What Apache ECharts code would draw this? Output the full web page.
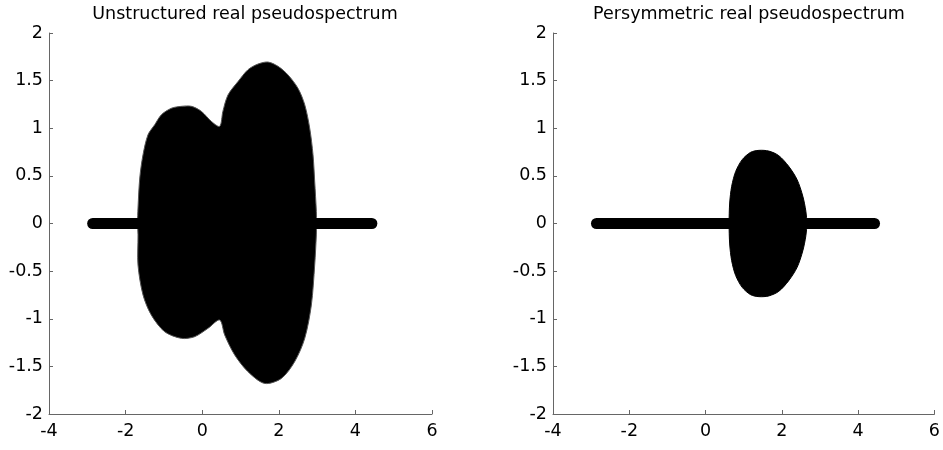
<!DOCTYPE html>
<html><head><meta charset="utf-8">
<script src="https://cdn.jsdelivr.net/npm/echarts@6/dist/echarts.min.js"></script>
<style>html,body{margin:0;padding:0;background:#fff}#c{width:943px;height:450px}</style>
</head><body><div id="c"></div>
<script>
// ---- data ----
const titles = ['Unstructured real pseudospectrum', 'Persymmetric real pseudospectrum'];
const xRange = [-4, 6];
const xStep = 2;
const yRange = [-2, 2];
const yStep = 0.5;
// eigenvalue strip along the real axis (start, end)
const realAxisStrip = [[-2.86, 0], [4.43, 0]];
// unstructured pseudospectrum: upper and lower boundaries (x ascending)
const unstructuredUpper = [
  [-1.69,0],[-1.676,0.163],[-1.63,0.478],[-1.545,0.722],[-1.415,0.932],[-1.24,1.037],
  [-1.065,1.142],[-0.804,1.21],[-0.543,1.23],[-0.28,1.23],[-0.02,1.177],[0.24,1.072],
  [0.457,1.02],[0.54,1.177],[0.674,1.35],[0.935,1.49],[1.196,1.615],[1.457,1.674],
  [1.718,1.695],[1.98,1.65],[2.24,1.56],[2.50,1.42],[2.677,1.247],[2.807,1.0],
  [2.893,0.722],[2.937,0.442],[2.98,0.127],[2.985,0]
];
const unstructuredLower = [
  [-1.69,0],[-1.676,-0.12],[-1.676,-0.436],[-1.545,-0.75],[-1.33,-0.96],[-0.98,-1.136],
  [-0.543,-1.206],[-0.196,-1.188],[0.152,-1.10],[0.457,-1.013],[0.587,-1.17],[0.848,-1.38],
  [1.196,-1.556],[1.63,-1.679],[2.068,-1.626],[2.415,-1.45],[2.677,-1.206],[2.85,-0.856],
  [2.937,-0.436],[2.98,-0.12],[2.985,0]
];
// persymmetric pseudospectrum: upper boundary (mirrored below the real axis)
const persymmetricUpper = [
  [0.614,0],[0.632,0.215],[0.684,0.39],[0.79,0.547],[0.96,0.67],[1.18,0.747],[1.40,0.768],
  [1.66,0.76],[1.92,0.712],[2.18,0.60],[2.40,0.46],[2.55,0.285],[2.63,0.127],[2.66,0]
];
const persymmetricLower = persymmetricUpper.map(p => [p[0], -p[1]]);

// ---- chart ----
const FONT = 'DejaVu Sans';
const FS = 17.5;
function blob(upper, lower, idx, stroke) {
  const pts = upper.concat(lower.slice().reverse());
  return {
    type: 'custom', xAxisIndex: idx, yAxisIndex: idx, silent: true,
    data: [pts[0]],
    renderItem: (params, api) => ({
      type: 'polygon',
      shape: { points: pts.map(p => api.coord(p)), smooth: 0.3 },
      style: { fill: '#000', stroke: stroke, lineWidth: 1 }
    })
  };
}
function strip(idx) {
  return {
    type: 'line', xAxisIndex: idx, yAxisIndex: idx, silent: true,
    data: realAxisStrip, symbol: 'none',
    lineStyle: { color: '#000', width: 11, cap: 'round' }, z: 3
  };
}
function axisCommon(margin) {
  return {
    type: 'value',
    axisLine: { show: true, onZero: false, lineStyle: { color: '#666', width: 1 } },
    axisTick: { show: true, inside: true, length: 4, lineStyle: { color: '#666' } },
    splitLine: { show: false },
    axisLabel: { color: '#000', fontFamily: FONT, fontSize: FS, margin: margin }
  };
}
function xAxis(idx) {
  return Object.assign(axisCommon(8), { gridIndex: idx, min: xRange[0], max: xRange[1], interval: xStep });
}
function yAxis(idx) {
  return Object.assign(axisCommon(6), { gridIndex: idx, min: yRange[0], max: yRange[1], interval: yStep });
}
const chart = echarts.init(document.getElementById('c'), null, { renderer: 'canvas' });
chart.setOption({
  animation: false,
  backgroundColor: '#fff',
  title: [
    { text: titles[0], left: 240, top: 0, textAlign: 'center',
      textStyle: { fontFamily: FONT, fontSize: FS, fontWeight: 'normal', color: '#000' } },
    { text: titles[1], left: 744, top: 0, textAlign: 'center',
      textStyle: { fontFamily: FONT, fontSize: FS, fontWeight: 'normal', color: '#000' } }
  ],
  grid: [
    { left: 49, top: 33, width: 383, height: 381 },
    { left: 553, top: 33, width: 383, height: 381 }
  ],
  xAxis: [xAxis(0), xAxis(1)],
  yAxis: [yAxis(0), yAxis(1)],
  series: [
    blob(unstructuredUpper, unstructuredLower, 0, '#555'), strip(0),
    blob(persymmetricUpper, persymmetricLower, 1, '#000'), strip(1)
  ]
});
</script></body></html>
